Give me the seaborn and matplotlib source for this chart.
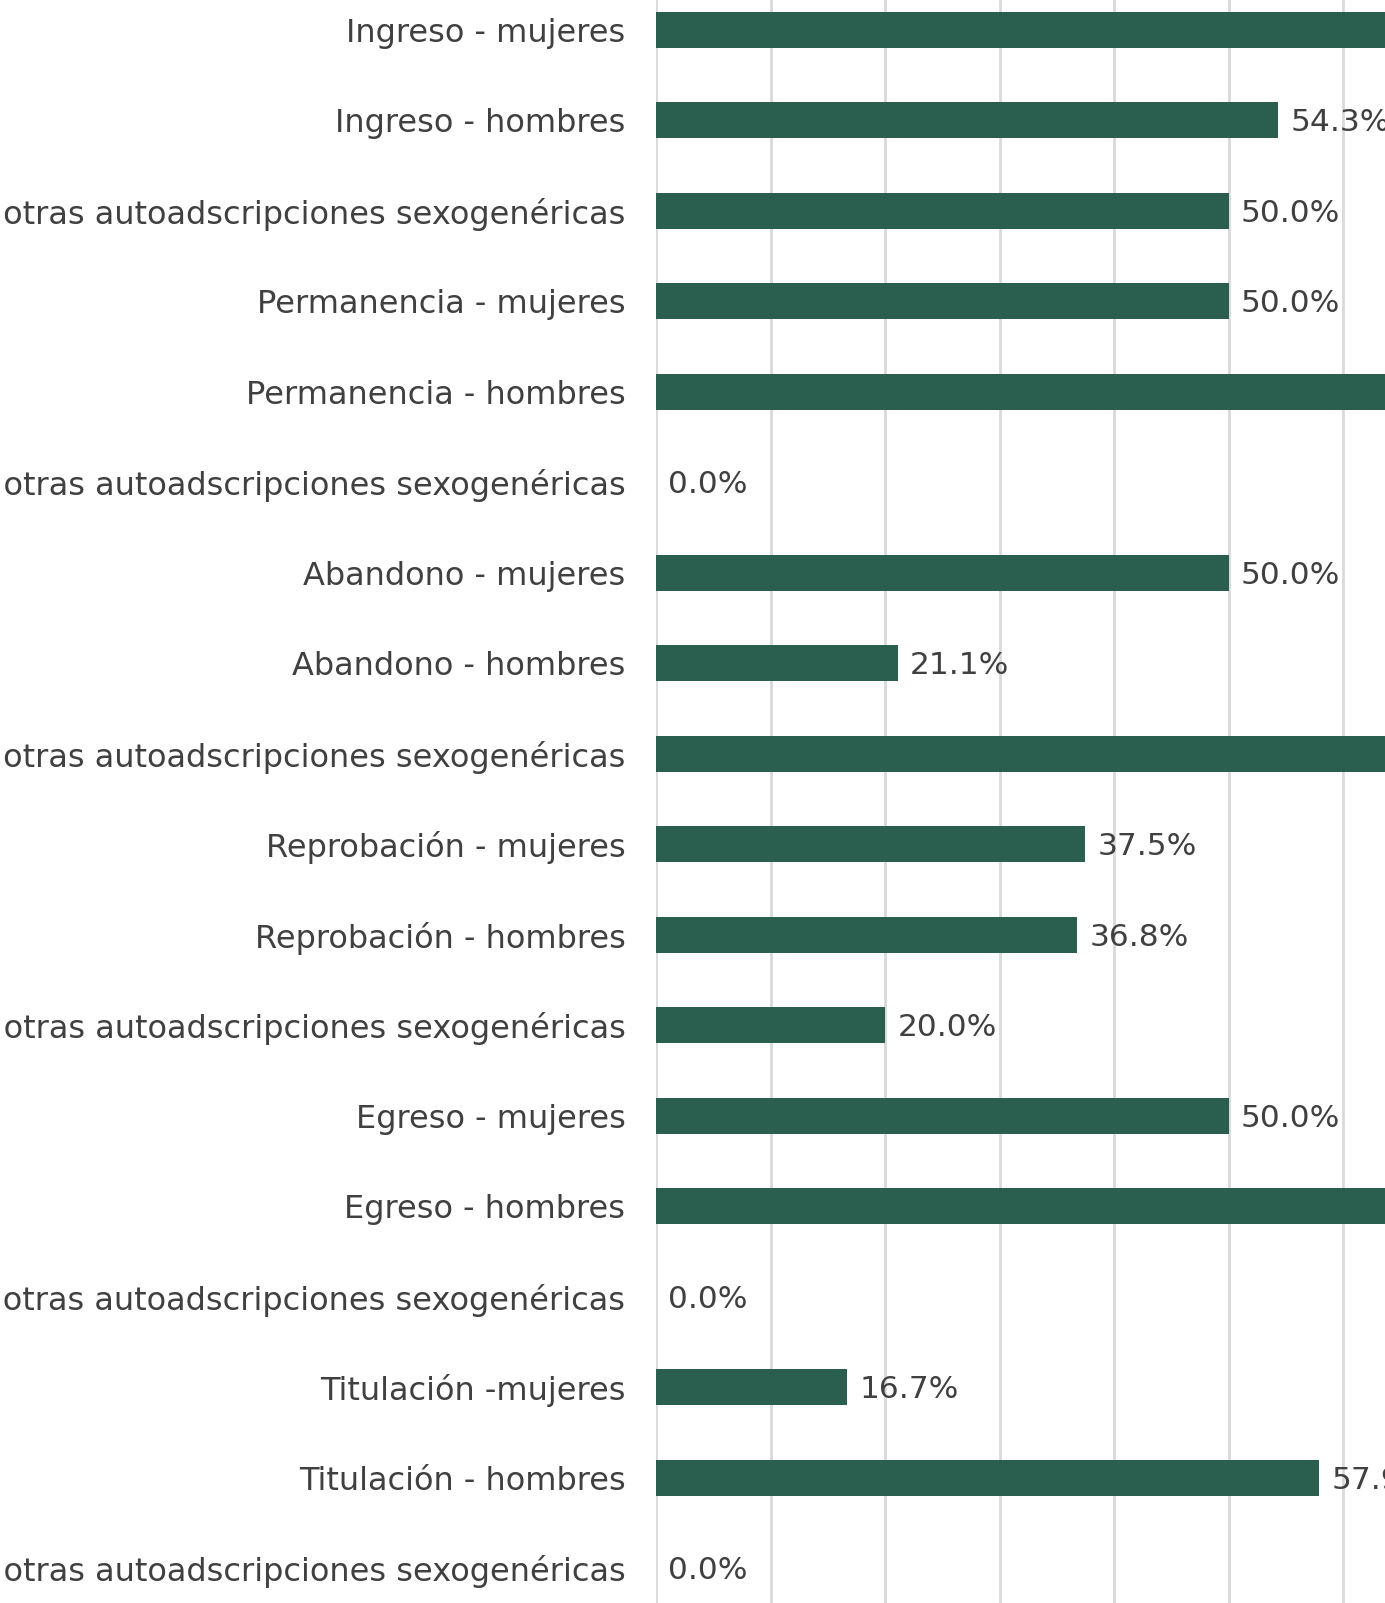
import matplotlib
matplotlib.use("Agg")
import matplotlib.pyplot as plt
import seaborn as sns
import pandas as pd

categories = [
    "Ingreso - mujeres",
    "Ingreso - hombres",
    "Ingreso - otras autoadscripciones sexogenéricas",
    "Permanencia - mujeres",
    "Permanencia - hombres",
    "Permanencia - otras autoadscripciones sexogenéricas",
    "Abandono - mujeres",
    "Abandono - hombres",
    "Abandono - otras autoadscripciones sexogenéricas",
    "Reprobación - mujeres",
    "Reprobación - hombres",
    "Reprobación - otras autoadscripciones sexogenéricas",
    "Egreso - mujeres",
    "Egreso - hombres",
    "Egreso - otras autoadscripciones sexogenéricas",
    "Titulación -mujeres",
    "Titulación - hombres",
    "Titulación - otras autoadscripciones sexogenéricas",
]
values = [
    75.0, 54.3, 50.0,
    50.0, 78.9, 0.0,
    50.0, 21.1, 100.0,
    37.5, 36.8, 20.0,
    50.0, 73.7, 0.0,
    16.7, 57.9, 0.0,
]
value_labels = [f"{v:.1f}%" for v in values]

df = pd.DataFrame({"cat": categories, "val": values})

sns.set_theme(style="white")
plt.rcParams["font.family"] = ["DejaVu Sans"]

W, H = 1385, 1603
fig = plt.figure(figsize=(W / 100, H / 100), dpi=100)
fig.patch.set_facecolor("white")

# axes: zero at x=656px, 10% = 114.5px; rows spaced 90.5px, first row centre at y=29.6px
x0 = 656
px_per_unit = 11.45
xmax = 100
left = x0 / W
width = xmax * px_per_unit / W
row = 90.5
top_px = 29.6 - row / 2
bottom_px = top_px + row * len(categories)
ax = fig.add_axes([left, (H - bottom_px) / H, width, (bottom_px - top_px) / H])

sns.barplot(data=df, y="cat", x="val", orient="h", color="#2a5e4e",
            width=0.4, saturation=1, linewidth=0, ax=ax)
ax.set_xlim(0, xmax)
ax.set_ylim(len(categories) - 0.5, -0.5)
ax.set_xticks(range(0, xmax + 1, 10))
ax.xaxis.grid(True, color="#d9d9d9", linewidth=2)
ax.yaxis.grid(False)
ax.set_axisbelow(True)
for s in ax.spines.values():
    s.set_visible(False)
ax.tick_params(axis="x", bottom=False, labelbottom=False)
ax.tick_params(axis="y", left=False, pad=16, labelsize=23, labelcolor="#404040")
ax.set_xlabel("")
ax.set_ylabel("")

for container in ax.containers:
    anns = ax.bar_label(container, labels=value_labels, padding=9, fontsize=22.5,
                        color="#404040")
    for a in anns:
        a.xyann = (9, -2)

fig.savefig("out.png", dpi=100, facecolor="white")
